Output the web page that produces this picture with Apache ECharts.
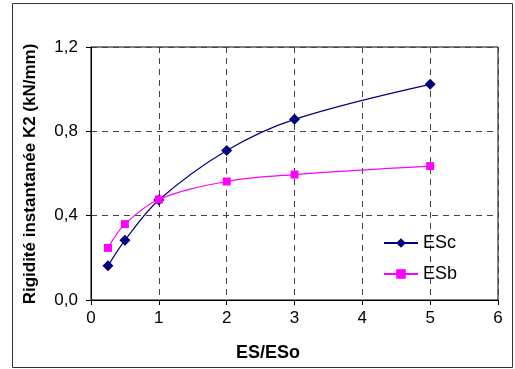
<!DOCTYPE html>
<html><head><meta charset="utf-8">
<script src="https://cdn.jsdelivr.net/npm/echarts@6/dist/echarts.min.js"></script>
<style>html,body{margin:0;padding:0;background:#fff}#c{width:515px;height:369px}</style>
</head><body><div id="c"></div>
<script>
var xValues = [0.25, 0.5, 1, 2, 3, 5];
var escValues = [0.162, 0.283, 0.474, 0.709, 0.857, 1.023];
var esbValues = [0.247, 0.360, 0.477, 0.562, 0.595, 0.635];
var seriesNames = ['ESc', 'ESb'];
var xTitle = 'ES/ESo';
var yTitle = 'Rigidité instantanée K2 (kN/mm)';

function pairs(xs, ys){ return xs.map(function(x,i){return [x, ys[i]];}); }
var font = '"Liberation Sans", Arial, sans-serif';
var chart = echarts.init(document.getElementById('c'), null, {renderer:'canvas'});
chart.setOption({
  animation:false,
  backgroundColor:'#fff',
  grid:{left:91, right:17, top:47, bottom:69, show:true, borderColor:'#000', borderWidth:1},
  xAxis:{type:'value', min:0, max:6, interval:1,
    axisLine:{lineStyle:{color:'#000', width:1}},
    axisTick:{show:true, inside:false, length:5, lineStyle:{color:'#000'}},
    axisLabel:{color:'#000', fontSize:17, fontFamily:font, margin:10},
    splitLine:{show:true, lineStyle:{color:'#444', type:[6,5], width:1}}},
  yAxis:{type:'value', min:0, max:1.2, interval:0.4,
    axisLine:{show:true, lineStyle:{color:'#000', width:1}},
    axisTick:{show:true, inside:false, length:5, lineStyle:{color:'#000'}},
    axisLabel:{color:'#000', fontSize:17, fontFamily:font, margin:13,
      formatter:function(v){return v.toFixed(1).replace('.', ',');}},
    splitLine:{show:true, lineStyle:{color:'#444', type:[6,5], width:1}}},
  legend:{orient:'vertical', left:378, top:229, itemWidth:34, itemHeight:12, itemGap:13,
    textStyle:{fontSize:18, fontFamily:font, color:'#000'},
    data:seriesNames},
  series:[
    {name:seriesNames[0], type:'line', smooth:0.35, data:pairs(xValues, escValues),
      symbol:'diamond', symbolSize:11, color:'#000080',
      lineStyle:{color:'#000080', width:1.2}, itemStyle:{color:'#000080'}},
    {name:seriesNames[1], type:'line', smooth:0.35, data:pairs(xValues, esbValues),
      symbol:'rect', symbolSize:8, color:'#FF00FF',
      lineStyle:{color:'#FF00FF', width:1.2}, itemStyle:{color:'#FF00FF'}}
  ],
  graphic:[
    {type:'rect', shape:{x:12.5, y:3.5, width:500, height:364}, style:{fill:'none', stroke:'#333', lineWidth:1}, silent:true, z:-1},
    {type:'text', x:268, y:353, style:{text:xTitle, font:'bold 18px '+font, fill:'#000', textAlign:'center', textVerticalAlign:'middle'}},
    {type:'text', x:30, y:174, rotation:Math.PI/2, style:{text:yTitle, font:'bold 17px '+font, fill:'#000', textAlign:'center', textVerticalAlign:'middle'}}
  ]
});
</script></body></html>
